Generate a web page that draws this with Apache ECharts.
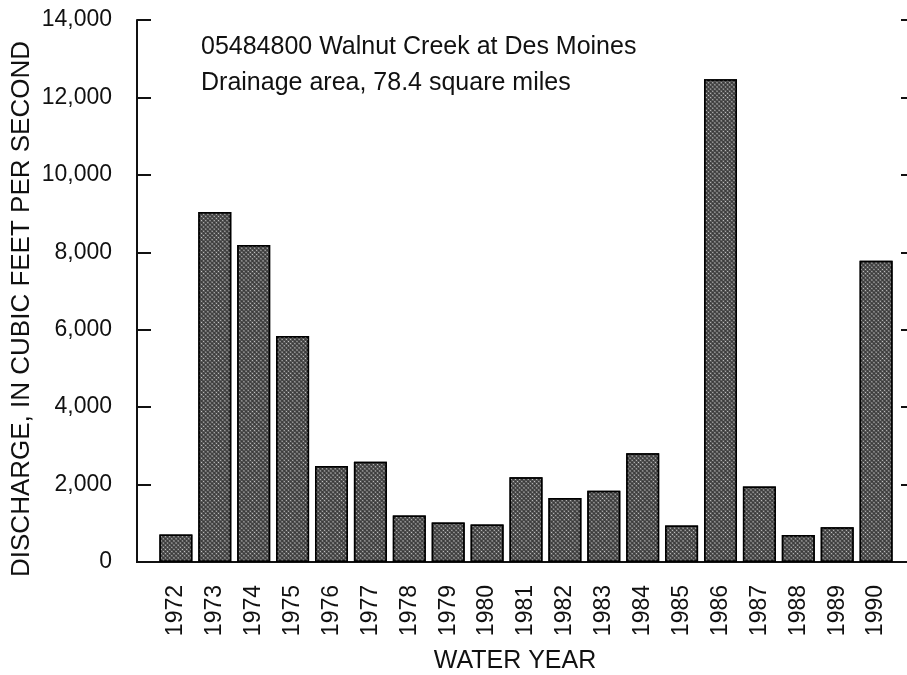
<!DOCTYPE html>
<html>
<head>
<meta charset="utf-8">
<script src="https://cdn.jsdelivr.net/npm/echarts@6/dist/echarts.min.js"></script>
<style>
    html, body { margin: 0; padding: 0; background: #fff; }
    #main { width: 907px; height: 675px; }
</style>
</head>
<body>
<div id="main"></div>
<script>
// annual peak discharge, Walnut Creek at Des Moines
const years = [1972, 1973, 1974, 1975, 1976, 1977, 1978, 1979, 1980, 1981,
    1982, 1983, 1984, 1985, 1986, 1987, 1988, 1989, 1990];
const discharge = [710, 9040, 8190, 5840, 2480, 2590, 1200, 1020, 970, 2190,
    1650, 1840, 2810, 940, 12470, 1950, 700, 900, 7780];
const yTicks = [0, 2000, 4000, 6000, 8000, 10000, 12000, 14000];

const font = 'Liberation Sans, Arial, Helvetica, sans-serif';
const ink = '#111';

const Init = () => {
    let myChart = echarts.init(document.getElementById('main'));

    let option = {
        animation: false,
        title: {
            text: '05484800 Walnut Creek at Des Moines\nDrainage area, 78.4 square miles',
            left: 196,
            top: 24,
            textStyle: {
                fontFamily: font,
                fontSize: 25,
                fontWeight: 'normal',
                color: ink,
                lineHeight: 36
            }
        },
        // plot runs past the right edge of the page, as in the original
        grid: { left: 137, width: 778, top: 20, bottom: 113, outerBoundsMode: 'none' },
        xAxis: [
            {
                type: 'value',
                min: 1971,
                max: 1991,
                interval: 1,
                axisLine: { lineStyle: { color: ink, width: 2 } },
                axisTick: { show: false },
                splitLine: { show: false },
                axisLabel: {
                    rotate: 90,
                    margin: 23,
                    fontFamily: font,
                    fontSize: 23,
                    color: ink,
                    formatter: (v) => (years.indexOf(v) >= 0 ? String(v) : '')
                }
            },
            {
                type: 'value',
                position: 'top',
                min: 1971,
                max: 1991,
                axisLine: { show: true, lineStyle: { color: ink, width: 2 } },
                axisTick: { show: false },
                axisLabel: { show: false },
                splitLine: { show: false }
            }
        ],
        yAxis: [
            {
                type: 'value',
                min: yTicks[0],
                max: yTicks[yTicks.length - 1],
                interval: 2000,
                axisLine: { show: true, lineStyle: { color: ink, width: 2 } },
                axisTick: { show: true, inside: true, length: 14, lineStyle: { color: ink, width: 2 } },
                splitLine: { show: false },
                axisLabel: {
                    margin: 25,
                    fontFamily: font,
                    fontSize: 23,
                    color: ink,
                    formatter: (v) => v.toLocaleString('en-US')
                }
            },
            {
                type: 'value',
                position: 'right',
                min: yTicks[0],
                max: yTicks[yTicks.length - 1],
                interval: 2000,
                axisLine: { show: true, lineStyle: { color: ink, width: 2 } },
                axisTick: { show: true, inside: true, length: 14, lineStyle: { color: ink, width: 2 } },
                axisLabel: { show: false },
                splitLine: { show: false }
            }
        ],
        graphic: [
            {
                type: 'text',
                x: 22,
                y: 309,
                rotation: Math.PI / 2,
                style: {
                    text: 'DISCHARGE, IN CUBIC FEET PER SECOND',
                    fontFamily: font,
                    fontSize: 26,
                    fill: ink,
                    align: 'center',
                    verticalAlign: 'middle'
                }
            },
            {
                type: 'text',
                x: 515,
                y: 661,
                style: {
                    text: 'WATER YEAR',
                    fontFamily: font,
                    fontSize: 25,
                    fill: ink,
                    align: 'center',
                    verticalAlign: 'middle'
                }
            }
        ],
        series: [
            {
                type: 'bar',
                barWidth: 33,
                data: years.map((y, i) => [y, discharge[i]]),
                itemStyle: {
                    color: '#3c3c3c',
                    borderColor: '#000',
                    borderWidth: 1.5,
                    decal: {
                        symbol: 'circle',
                        symbolSize: 0.55,
                        color: 'rgba(255,255,255,0.75)',
                        dashArrayX: [[3, 0]],
                        dashArrayY: [3, 0],
                        rotation: Math.PI / 4
                    }
                }
            }
        ]
    };

    myChart.setOption(option);
};

Init();
</script>
</body>
</html>
